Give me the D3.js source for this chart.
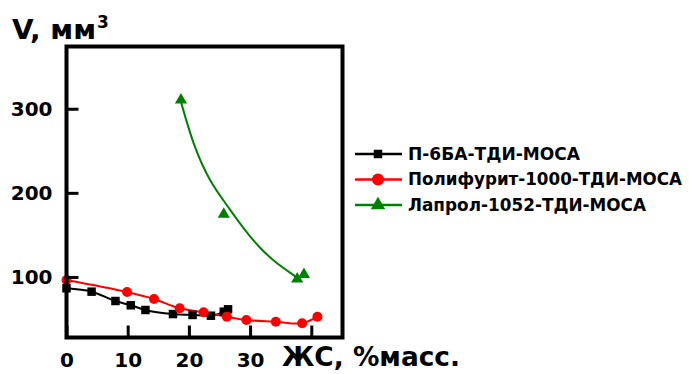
<!DOCTYPE html>
<html><head><meta charset="utf-8">
<script src="https://cdn.jsdelivr.net/npm/d3@7"></script>
<style>
body{margin:0;background:#fff}
text{font-family:"DejaVu Sans",sans-serif;font-weight:bold;fill:#000}
</style>
</head><body>
<svg id="c" width="689" height="374"></svg>
<script>
// ---- data ----
const seriesNames = ["П-6БА-ТДИ-МОСА", "Полифурит-1000-ТДИ-МОСА", "Лапрол-1052-ТДИ-МОСА"];
const seriesColors = ["#000000", "#ff0000", "#008000"];
const blackX = [0, 4.1, 8.0, 10.5, 12.9, 17.4, 20.6, 23.6, 25.7, 26.4];
const blackY = [86.5, 82.5, 71.4, 66.3, 60.7, 55.9, 54.8, 53.9, 58.7, 61.5];
const redX = [0, 9.9, 14.3, 18.5, 22.4, 26.2, 29.4, 34.2, 38.5, 41.0];
const redY = [96.4, 82.1, 73.8, 62.7, 58.0, 52.7, 48.8, 46.8, 44.9, 52.7];
const greenX = [18.7, 25.7, 37.7, 38.8];
const greenY = [310.4, 174.5, 97.6, 103.0];
// fitted trend line of the green series
const greenFitX = [18.7, 20.7, 23.4, 26.2, 28.9, 31.6, 34.3, 37.1, 38.2];
const greenFitY = [308.4, 256.9, 213.2, 185.5, 157.8, 134.0, 116.2, 102.3, 96.4];
const xTicks = [0, 10, 20, 30, 40];
const xTickLabels = ["0", "10", "20", "30", ""];
const yTicks = [100, 200, 300];
const yTickLabels = ["100", "200", "300"];
const yTitle = "V, мм";
const yTitleSup = "3";
const xTitle = "ЖС, %масс.";

// ---- layout ----
const L = 66.5, R = 342.5, T = 46.5, B = 337.5;
const x = d3.scaleLinear().domain([0, 45.1]).range([L, R]);
const y = d3.scaleLinear().domain([28, 374]).range([B, T]);
const svg = d3.select("#c");

const zip = (a, b) => a.map((v, i) => [v, b[i]]);

// lines
const lineCR = d3.line().x(d => x(d[0])).y(d => y(d[1])).curve(d3.curveCatmullRom.alpha(0.5));
const lineMono = d3.line().x(d => x(d[0])).y(d => y(d[1])).curve(d3.curveMonotoneX);
const lineBasis = d3.line().x(d => x(d[0])).y(d => y(d[1])).curve(d3.curveBasis);

svg.append("path").attr("d", lineMono(zip(blackX, blackY)))
  .attr("fill", "none").attr("stroke", seriesColors[0]).attr("stroke-width", 2);
svg.append("path").attr("d", lineCR(zip(redX, redY)))
  .attr("fill", "none").attr("stroke", seriesColors[1]).attr("stroke-width", 2);
svg.append("path").attr("d", lineBasis(zip(greenFitX, greenFitY)))
  .attr("fill", "none").attr("stroke", seriesColors[2]).attr("stroke-width", 2);

// markers
const sq = d3.symbol().type(d3.symbolSquare).size(72);
const ci = d3.symbol().type(d3.symbolCircle).size(Math.PI * 5 * 5);
const tr = d3.symbol().type(d3.symbolTriangle).size(64);

svg.append("g").selectAll("path").data(zip(blackX, blackY)).join("path")
  .attr("d", sq).attr("transform", d => `translate(${x(d[0])},${y(d[1])})`).attr("fill", seriesColors[0]);
svg.append("g").selectAll("path").data(zip(redX, redY)).join("path")
  .attr("d", ci).attr("transform", d => `translate(${x(d[0])},${y(d[1])})`).attr("fill", seriesColors[1]);
svg.append("g").selectAll("path").data(zip(greenX, greenY)).join("path")
  .attr("d", tr).attr("transform", d => `translate(${x(d[0])},${y(d[1])})`).attr("fill", seriesColors[2]);

// axes with inward ticks
const ax = svg.append("g").attr("transform", `translate(0,${B})`)
  .call(d3.axisBottom(x).tickValues(xTicks).tickSize(-12).tickPadding(15)
        .tickFormat((d, i) => xTickLabels[i]));
ax.select(".domain").remove();
ax.selectAll("line").attr("stroke", "#000").attr("stroke-width", 3);
ax.selectAll("text").attr("font-size", 20).attr("fill", "#000")
  .attr("font-family", "DejaVu Sans").attr("font-weight", "bold");

const ay = svg.append("g").attr("transform", `translate(${L},0)`)
  .call(d3.axisLeft(y).tickValues(yTicks).tickSize(-12).tickPadding(14)
        .tickFormat((d, i) => yTickLabels[i]));
ay.select(".domain").remove();
ay.selectAll("line").attr("stroke", "#000").attr("stroke-width", 3);
ay.selectAll("text").attr("font-size", 20).attr("fill", "#000")
  .attr("font-family", "DejaVu Sans").attr("font-weight", "bold");

// frame
svg.append("rect").attr("x", L).attr("y", T).attr("width", R - L).attr("height", B - T)
  .attr("fill", "none").attr("stroke", "#000").attr("stroke-width", 4);

// titles
svg.append("text").attr("x", 12).attr("y", 39).attr("font-size", 26)
  .attr("textLength", 84).attr("lengthAdjust", "spacingAndGlyphs").text(yTitle);
svg.append("text").attr("x", 97).attr("y", 28).attr("font-size", 17).text(yTitleSup);

svg.append("text").attr("x", 282).attr("y", 366).attr("font-size", 26)
  .attr("textLength", 178).attr("lengthAdjust", "spacingAndGlyphs").text(xTitle);

// legend
const legY = [154, 179.5, 205];
const legW = [172, 274, 238];
const legSym = [d3.symbol().type(d3.symbolSquare).size(72),
                d3.symbol().type(d3.symbolCircle).size(Math.PI * 6 * 6),
                d3.symbol().type(d3.symbolTriangle).size(90)];
seriesNames.forEach((n, i) => {
  const g = svg.append("g");
  g.append("line").attr("x1", 355).attr("x2", 402).attr("y1", legY[i]).attr("y2", legY[i])
    .attr("stroke", seriesColors[i]).attr("stroke-width", 2.5);
  g.append("path").attr("d", legSym[i]).attr("transform", `translate(378,${legY[i]})`)
    .attr("fill", seriesColors[i]);
  g.append("text").attr("x", 408).attr("y", legY[i] + 5.5).attr("font-size", 17)
    .attr("textLength", legW[i]).attr("lengthAdjust", "spacingAndGlyphs").text(n);
});
</script>
</body></html>
